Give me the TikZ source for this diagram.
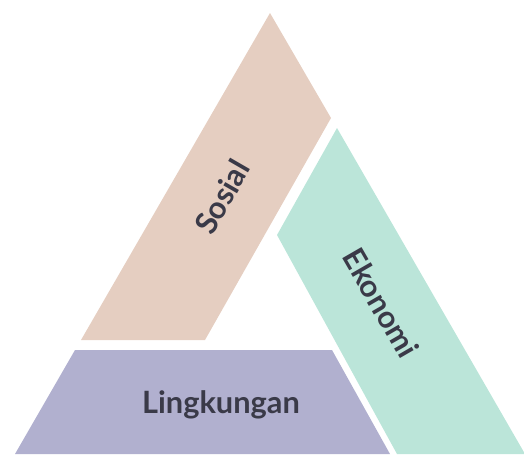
\documentclass[tikz,border=0pt]{standalone}
\usepackage{fontspec}
\setmainfont{Lato}
\usepackage{xcolor}
\usepackage{tikz}
\usetikzlibrary{calc}
\definecolor{SosialPeach}{RGB}{229, 206, 193}
\definecolor{EkonomiMint}{RGB}{187, 229, 217}
\definecolor{LingkunganLilac}{RGB}{177, 176, 207}
\definecolor{TagGray}{RGB}{58, 58, 72}

\begin{document}
\begin{tikzpicture}[
  x=0.02cm, y=-0.02cm,
  tag/.style={font=\bfseries\fontsize{17.5}{20}\selectfont, text=TagGray, inner sep=0pt}
]
  \useasboundingbox (0,0) rectangle (524,454);

  % the three sides of the triangle
  \fill[SosialPeach]     (270,13) -- (331,118) -- (205,340) -- (81,340) -- cycle;
  \fill[EkonomiMint]     (337,128) -- (525,454) -- (397,454) -- (277,235) -- cycle;
  \fill[LingkunganLilac] (75,350) -- (332,350) -- (390,454) -- (15,454) -- cycle;

  \node[tag, rotate=60]  (sosial)     at (222,197) {Sosial};
  \node[tag, rotate=-60] (ekonomi)    at (381,303) {Ekonomi};
  \node[tag]             (lingkungan) at (221,405) {Lingkungan};
\end{tikzpicture}
\end{document}
